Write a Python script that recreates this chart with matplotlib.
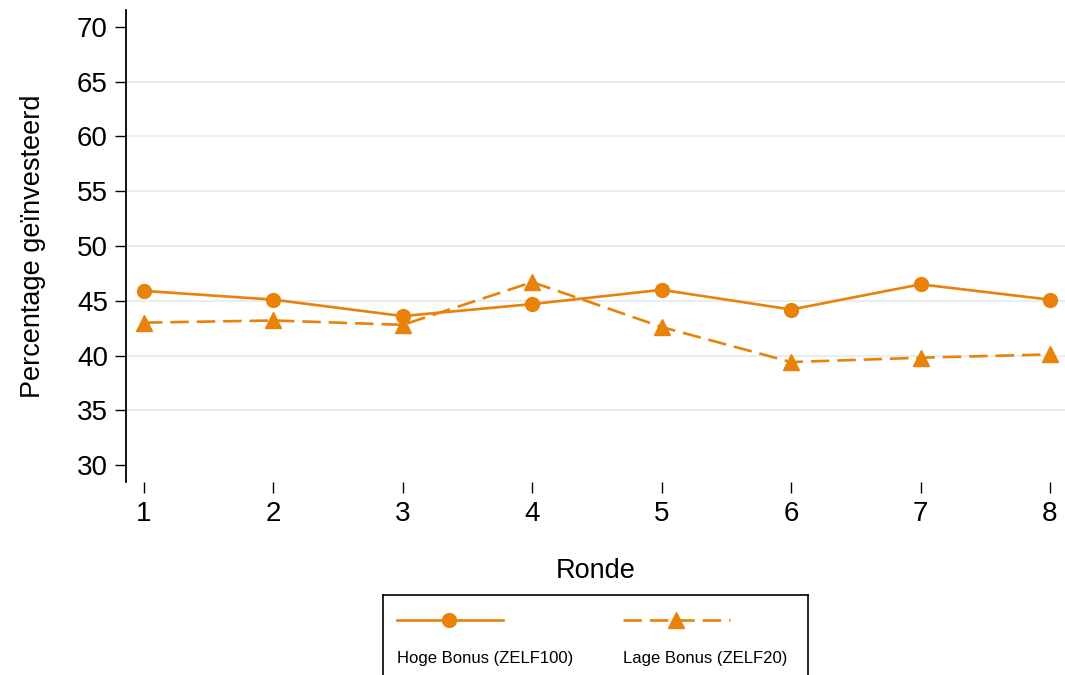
import numpy as np
import matplotlib
matplotlib.use("Agg")
import matplotlib.pyplot as plt

plt.rcParams['font.family'] = ['Liberation Sans', 'DejaVu Sans']

# data
ronde = [1, 2, 3, 4, 5, 6, 7, 8]
hoge_bonus = [45.9, 45.1, 43.6, 44.7, 46.0, 44.2, 46.5, 45.1]
lage_bonus = [43.0, 43.2, 42.8, 46.7, 42.6, 39.4, 39.8, 40.1]
y_ticks = [30, 35, 40, 45, 50, 55, 60, 65, 70]
grid_vals = [35, 40, 45, 50, 55, 60, 65]
labels = ['Hoge Bonus (ZELF100)', 'Lage Bonus (ZELF20)']

orange = '#e8820a'
W, H = 1065, 675
dash = (7, 3)

fig = plt.figure(figsize=(W / 100, H / 100), dpi=100)
ax = fig.add_axes([126 / W, (H - 482) / H, (W - 126) / W, (482 - 10) / H])

for g in grid_vals:
    ax.axhline(g, color='#e6eef0', lw=1.5, zorder=0)

ax.plot(ronde, hoge_bonus, color=orange, lw=1.9, marker='o', ms=10, zorder=3)
ax.plot(ronde, lage_bonus, color=orange, lw=1.9, marker='^', ms=11,
        dashes=dash, zorder=3)

ax.set_xlim(0.861, 8.116)
ax.set_ylim(28.45, 71.55)
ax.set_xticks(ronde)
ax.set_yticks(y_ticks)

for s in ['top', 'right', 'bottom']:
    ax.spines[s].set_visible(False)
ax.spines['left'].set_linewidth(1.3)
ax.tick_params(axis='y', length=8, width=1, labelsize=20, pad=5)
ax.tick_params(axis='x', length=8, width=1, labelsize=20, pad=6)

ax.set_xlabel('Ronde', fontsize=19.5, labelpad=22)
ax.set_ylabel('Percentage geïnvesteerd', fontsize=19.5, labelpad=22)

# Stata-style legend box, keys above the labels
lg = fig.add_axes([383 / W, -0.02, (808 - 383) / W, (675 - 595) / H + 0.02])
lg.set_xlim(0, 425)
lg.set_ylim(93.5, 0)
lg.set_xticks([])
lg.set_yticks([])
for s in lg.spines.values():
    s.set_linewidth(1.2)
    s.set_color('black')

lg.plot([14, 120], [25, 25], color=orange, lw=1.9)
lg.plot([66], [25], color=orange, marker='o', ms=10)
lg.plot([240, 347], [25, 25], color=orange, lw=1.9, dashes=dash)
lg.plot([293], [25], color=orange, marker='^', ms=11)
lg.text(14, 64, labels[0], fontsize=12, va='center', ha='left')
lg.text(240, 64, labels[1], fontsize=12, va='center', ha='left')

fig.savefig('out.png', dpi=100)
